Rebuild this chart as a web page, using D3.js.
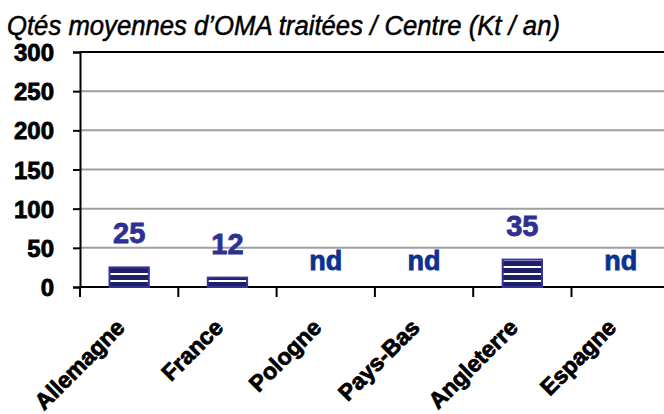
<!DOCTYPE html>
<html>
<head>
<meta charset="utf-8">
<script src="https://cdn.jsdelivr.net/npm/d3@7"></script>
<style>
  body { margin: 0; background: #fff; }
  svg { display: block; }
</style>
</head>
<body>
<div id="chart"></div>
<script>
const width = 664;
const height = 414;

// data
const categories = ["Allemagne", "France", "Pologne", "Pays-Bas", "Angleterre", "Espagne"];
const values = [25, 12, null, null, 35, null];
const yTicks = [0, 50, 100, 150, 200, 250, 300];
const title = "Qtés moyennes d\u2019OMA traitées / Centre (Kt / an)";

const plotLeft = 80, plotTop = 52, plotBottom = 287, bandW = 98.3;

const svg = d3.select('#chart').append('svg')
    .attr('width', width)
    .attr('height', height)
    .style('font-family', 'Arial, "Liberation Sans", sans-serif');

// striped fill for the bars
const pat = svg.append('defs').append('pattern')
    .attr('id', 'stripes')
    .attr('patternUnits', 'userSpaceOnUse')
    .attr('width', 8).attr('height', 7)
    .attr('y', 2);
pat.append('rect').attr('width', 8).attr('height', 7).attr('fill', '#fff');
pat.append('rect').attr('width', 8).attr('height', 5).attr('fill', '#1f1f66');

const x = d3.scaleBand()
    .domain(categories)
    .range([plotLeft, plotLeft + bandW * categories.length])
    .padding(0);

const y = d3.scaleLinear()
    .domain([0, 300])
    .range([plotBottom, plotTop]);

// title
svg.append('text')
    .attr('x', 7)
    .attr('y', 35)
    .attr('font-size', 27)
    .attr('font-style', 'italic')
    .attr('textLength', 553)
    .attr('lengthAdjust', 'spacingAndGlyphs')
    .attr('fill', '#000')
    .attr('stroke', '#000')
    .attr('stroke-width', 0.5)
    .text(title);

// gridlines
svg.append('g')
    .selectAll('line')
    .data(yTicks.filter(d => d > 0 && d < 300))
    .enter().append('line')
    .attr('x1', plotLeft).attr('x2', width)
    .attr('y1', d => y(d)).attr('y2', d => y(d))
    .attr('stroke', '#a0a0a0')
    .attr('stroke-width', 2);

// top border of plot
svg.append('line')
    .attr('x1', plotLeft).attr('x2', width)
    .attr('y1', y(300)).attr('y2', y(300))
    .attr('stroke', '#000').attr('stroke-width', 2);

// y axis
const yAxis = svg.append('g')
    .attr('transform', 'translate(' + plotLeft + ',0)')
    .call(d3.axisLeft(y).tickValues(yTicks).tickSize(7).tickPadding(19));
yAxis.select('.domain').attr('stroke-width', 2);
yAxis.selectAll('.tick line').attr('stroke-width', 2);
yAxis.selectAll('.tick text')
    .attr('font-size', 24)
    .attr('font-weight', 'bold')
    .attr('font-family', 'Arial, "Liberation Sans", sans-serif')
    .attr('fill', '#000')
    .attr('stroke', '#000')
    .attr('stroke-width', 0.8)
    .attr('dy', '0.36em');

// x axis line and ticks at category boundaries
svg.append('line')
    .attr('x1', plotLeft).attr('x2', width)
    .attr('y1', plotBottom).attr('y2', plotBottom)
    .attr('stroke', '#000').attr('stroke-width', 2);
svg.append('g')
    .selectAll('line')
    .data(categories)
    .enter().append('line')
    .attr('x1', d => x(d)).attr('x2', d => x(d))
    .attr('y1', plotBottom).attr('y2', plotBottom + 10)
    .attr('stroke', '#000').attr('stroke-width', 2);

// category labels, rotated
svg.append('g')
    .selectAll('text')
    .data(categories)
    .enter().append('text')
    .attr('transform', d => 'translate(' + (x(d) + x.bandwidth() / 2 - 3) + ',' + 329 + ') rotate(-45)')
    .attr('text-anchor', 'end')
    .attr('font-size', 23)
    .attr('font-weight', 'bold')
    .attr('fill', '#000')
    .attr('stroke', '#000')
    .attr('stroke-width', 0.8)
    .text(d => d);

// bars
const barW = x.bandwidth() * 0.4;
svg.append('g')
    .selectAll('rect')
    .data(categories.map((c, i) => ({ c: c, v: values[i] })).filter(d => d.v != null))
    .enter().append('rect')
    .attr('x', d => x(d.c) + (x.bandwidth() - barW) / 2)
    .attr('y', d => y(d.v))
    .attr('width', barW)
    .attr('height', d => y(0) - y(d.v))
    .attr('fill', 'url(#stripes)')
    .attr('stroke', '#333399')
    .attr('stroke-width', 2);

// value labels
svg.append('g')
    .selectAll('text')
    .data(categories.map((c, i) => ({ c: c, v: values[i] })))
    .enter().append('text')
    .attr('x', d => x(d.c) + x.bandwidth() / 2)
    .attr('y', d => d.v != null ? y(d.v) - 24 : y(0) - 17)
    .attr('text-anchor', 'middle')
    .attr('font-size', d => d.v != null ? 29 : 27)
    .attr('font-weight', 'bold')
    .attr('fill', d => d.v != null ? '#2e3192' : '#0a3291')
    .attr('stroke', d => d.v != null ? '#2e3192' : '#0a3291')
    .attr('stroke-width', 0.8)
    .text(d => d.v != null ? d.v : 'nd');
</script>
</body>
</html>
